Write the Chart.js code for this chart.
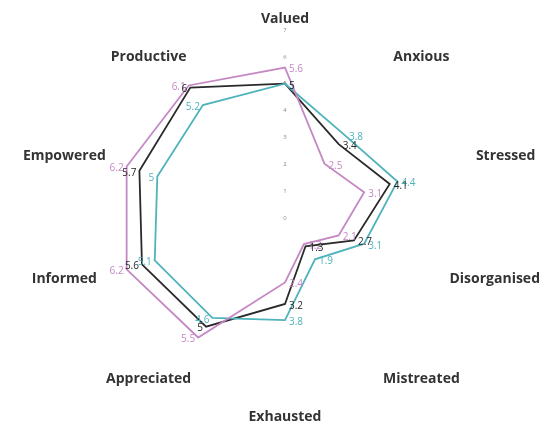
<!DOCTYPE html>
<html>
<head>
<meta charset="utf-8">
<script src="https://cdn.jsdelivr.net/npm/chart.js@4"></script>
<style>
  html, body { margin: 0; padding: 0; background: #fff; }
  #wrap { width: 541px; height: 423px; position: relative; }
</style>
</head>
<body>
<div id="wrap"><canvas id="radarChart"></canvas></div>
<script>
var categories = ["Valued", "Anxious", "Stressed", "Disorganised", "Mistreated", "Exhausted", "Appreciated", "Informed", "Empowered", "Productive"];
var purpleValues = [5.6, 2.5, 3.1, 2.1, 1.2, 2.4, 5.5, 6.2, 6.2, 6.1];
var blackValues = [5, 3.4, 4.1, 2.7, 1.3, 3.2, 5, 5.6, 5.7, 6];
var tealValues = [5, 3.8, 4.4, 3.1, 1.9, 3.8, 4.6, 5.1, 5, 5.2];
var tickLabels = ["0", "1", "2", "3", "4", "5", "6", "7"];

// value next to every point, in the series colour
var valueLabels = {
    id: 'valueLabels',
    afterDatasetsDraw: function(chart) {
        var ctx = chart.ctx;
        var scale = chart.scales.r;
        chart.data.datasets.forEach(function(ds, i) {
            var meta = chart.getDatasetMeta(i);
            meta.data.forEach(function(pt, j) {
                var leftSide = Math.sin(scale.getIndexAngle(j)) < -0.01;
                ctx.save();
                ctx.font = '10px "Open Sans"';
                ctx.fillStyle = ds.borderColor;
                ctx.textAlign = leftSide ? 'right' : 'left';
                ctx.textBaseline = 'middle';
                ctx.fillText(String(ds.data[j]), pt.x + (leftSide ? -3 : 4), pt.y + 2);
                ctx.restore();
            });
        });
    }
};

// category names on a wide ellipse round the outer ring, kept inside the canvas
var axisLabels = {
    id: 'axisLabels',
    afterDraw: function(chart) {
        var scale = chart.scales.r;
        var ctx = chart.ctx;
        var rx = scale.drawingArea + 44;
        var ry = scale.drawingArea + 11;
        ctx.save();
        ctx.font = 'bold 14px "Open Sans"';
        ctx.fillStyle = '#333';
        ctx.textAlign = 'center';
        ctx.textBaseline = 'middle';
        categories.forEach(function(name, i) {
            var a = scale.getIndexAngle(i);
            var w = ctx.measureText(name).width;
            var x = scale.xCenter + Math.sin(a) * rx;
            var y = scale.yCenter - Math.cos(a) * ry;
            x = Math.min(Math.max(x, w / 2 + 1), chart.width - w / 2 - 1);
            ctx.fillText(name, x, y);
        });
        ctx.restore();
    }
};

// chart.js skips the tick at the centre, put the 0 back
var zeroTick = {
    id: 'zeroTick',
    afterDraw: function(chart) {
        var scale = chart.scales.r;
        var ctx = chart.ctx;
        ctx.save();
        ctx.font = '6px "Open Sans"';
        ctx.fillStyle = '#888';
        ctx.textAlign = 'center';
        ctx.textBaseline = 'middle';
        ctx.fillText(tickLabels[0], scale.xCenter, scale.yCenter);
        ctx.restore();
    }
};

var ctxR = document.getElementById("radarChart").getContext('2d');
var myRadarChart = new Chart(ctxR, {
    type: 'radar',
    data: {
        labels: categories,
        datasets: [{
            label: "Series 1",
            data: purpleValues,
            borderColor: "#c588c4",
            backgroundColor: "transparent",
            borderWidth: 1.8,
            pointRadius: 0,
            fill: false
        }, {
            label: "Series 3",
            data: tealValues,
            borderColor: "#4fb3bb",
            backgroundColor: "transparent",
            borderWidth: 1.8,
            pointRadius: 0,
            fill: false
        }, {
            label: "Series 2",
            data: blackValues,
            borderColor: "#2a2a2a",
            backgroundColor: "transparent",
            borderWidth: 1.8,
            pointRadius: 0,
            fill: false
        }]
    },
    options: {
        responsive: true,
        maintainAspectRatio: false,
        animation: false,
        layout: { padding: { left: 92, right: 63, top: 25, bottom: 12 } },
        plugins: {
            legend: { display: false },
            tooltip: { enabled: false }
        },
        elements: { line: { tension: 0 } },
        scales: {
            r: {
                min: 0,
                max: 7,
                grid: { display: false },
                angleLines: { display: false },
                ticks: {
                    stepSize: 1,
                    showLabelBackdrop: false,
                    color: '#888',
                    font: { family: 'Open Sans', size: 6 },
                    callback: function(value, index) { return tickLabels[index]; }
                },
                pointLabels: { display: false }
            }
        }
    },
    plugins: [valueLabels, axisLabels, zeroTick]
});
</script>
</body>
</html>
